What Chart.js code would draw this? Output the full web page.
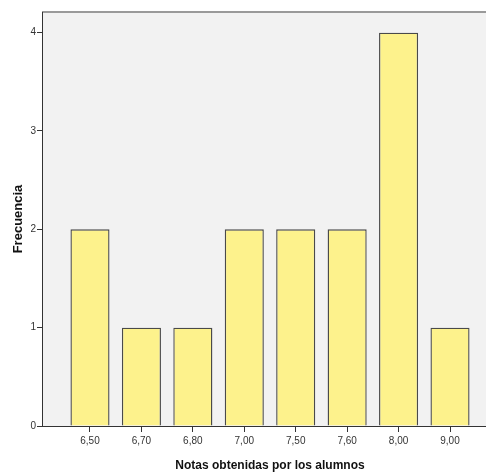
<!DOCTYPE html>
<html>
<head>
<meta charset="utf-8">
<script src="https://cdn.jsdelivr.net/npm/chart.js@4/dist/chart.umd.min.js"></script>
<style>
  html, body { margin: 0; padding: 0; background: #fff; overflow: hidden; }
  #wrap { width: 498px; height: 473px; }
</style>
</head>
<body>
<div id="wrap"><canvas id="chart" width="498" height="473"></canvas></div>
<script>
// Notas y frecuencias
const notas = ["6,50", "6,70", "6,80", "7,00", "7,50", "7,60", "8,00", "9,00"];
const frecuencias = [2, 1, 1, 2, 2, 2, 4, 1];
const yTicks = [0, 1, 2, 3, 4];

// Fondo gris del area y borde superior
const plotBackground = {
  id: "plotBackground",
  beforeDraw(chart) {
    const { ctx, chartArea: a } = chart;
    ctx.save();
    ctx.fillStyle = "#f2f2f2";
    ctx.fillRect(a.left, a.top, a.right - a.left, a.bottom - a.top);
    ctx.strokeStyle = "#9a9a9a";
    ctx.lineWidth = 2;
    ctx.beginPath();
    ctx.moveTo(a.left, a.top);
    ctx.lineTo(a.right, a.top);
    ctx.stroke();
    ctx.restore();
  }
};

const ctx = document.getElementById("chart").getContext("2d");

new Chart(ctx, {
  type: "bar",
  data: {
    datasets: [{
      label: "Frecuencia",
      data: frecuencias.map((v, i) => ({ x: i, y: v })),
      backgroundColor: "#fdf28c",
      borderColor: "#4a4a4a",
      borderWidth: 1.4,
      categoryPercentage: 1,
      barPercentage: 0.76
    }]
  },
  options: {
    responsive: false,
    animation: false,
    layout: { padding: { top: 12, left: 0, right: 0, bottom: 0 } },
    plugins: {
      legend: { display: false },
      tooltip: { enabled: false }
    },
    scales: {
      x: {
        type: "linear",
        offset: false,
        min: -0.933,
        max: 7.933,
        afterBuildTicks: scale => { scale.ticks = notas.map((_, i) => ({ value: i })); },
        afterFit: scale => { scale.height = 47; },
        ticks: {
          autoSkip: false,
          maxRotation: 0,
          padding: 3,
          color: "#333",
          font: { family: "Liberation Sans", size: 10 },
          callback: v => notas[v]
        },
        grid: { offset: false, drawOnChartArea: false, drawTicks: true, tickLength: 6, color: "#333" },
        border: { color: "#333", width: 1 },
        title: {
          display: true,
          text: "Notas obtenidas por los alumnos",
          color: "#111",
          font: { family: "Liberation Sans", size: 12, weight: "bold" },
          padding: { top: 6, bottom: 0 }
        }
      },
      y: {
        min: 0,
        max: 4.21,
        afterBuildTicks: scale => { scale.ticks = yTicks.map(v => ({ value: v })); },
        afterFit: scale => { scale.width = 42; },
        ticks: {
          padding: 1,
          color: "#333",
          font: { family: "Liberation Sans", size: 10 }
        },
        grid: { drawOnChartArea: false, drawTicks: true, tickLength: 5, color: "#333" },
        border: { color: "#333", width: 1 },
        title: {
          display: true,
          text: "Frecuencia",
          color: "#111",
          font: { family: "Liberation Sans", size: 13, weight: "bold" },
          padding: { top: 11, bottom: 0 }
        }
      }
    }
  },
  plugins: [plotBackground]
});
</script>
</body>
</html>
